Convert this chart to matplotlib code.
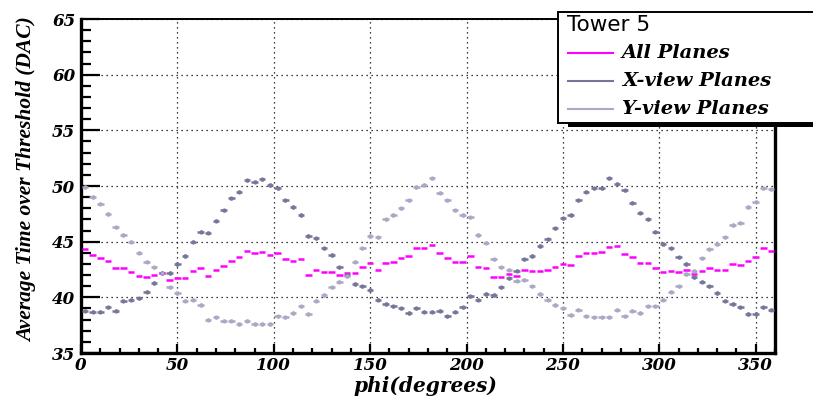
import numpy as np
import matplotlib
matplotlib.use("Agg")
import matplotlib.pyplot as plt
from matplotlib.ticker import MultipleLocator
from matplotlib.lines import Line2D

# Bin centres in phi (degrees), 4-degree bins
bin_width = 4.0
phi = np.arange(2, 360, 4)

all_planes = [
    44.3, 43.8, 43.5, 43.3, 42.6, 42.6, 42.3, 41.9, 41.8, 42.0,
    42.2, 41.6, 41.7, 41.7, 42.4, 42.6, 41.9, 42.5, 42.8, 43.3,
    43.6, 44.2, 44.0, 44.1, 43.8, 44.0, 43.4, 43.3, 43.4, 42.0,
    42.5, 42.3, 42.3, 42.0, 42.2, 42.2, 42.7, 43.1, 42.5, 43.1,
    43.2, 43.5, 43.7, 44.4, 44.4, 44.7, 44.0, 43.5, 43.2, 43.2,
    43.7, 42.7, 42.6, 41.8, 41.8, 42.1, 41.9, 42.5, 42.4, 42.4,
    42.5, 42.7, 43.0, 42.9, 43.7, 44.0, 44.0, 44.1, 44.5, 44.6,
    43.9, 43.6, 43.1, 43.1, 42.6, 42.3, 42.4, 42.3, 42.5, 42.1,
    42.4, 42.6, 42.5, 42.5, 43.0, 42.9, 43.3, 43.6, 44.4, 44.2,
]

x_view = [
    38.8, 38.7, 38.7, 39.1, 38.8, 39.7, 39.8, 39.9, 40.5, 41.3,
    42.2, 42.2, 43.0, 43.7, 45.0, 45.9, 45.8, 46.9, 47.8, 48.9,
    49.5, 50.5, 50.4, 50.6, 50.1, 49.8, 48.7, 48.1, 47.4, 45.5,
    45.3, 44.4, 43.8, 42.7, 42.0, 41.2, 41.0, 40.7, 39.8, 39.4,
    39.2, 39.0, 38.6, 39.0, 38.7, 38.7, 38.8, 38.3, 38.7, 39.1,
    40.1, 39.8, 40.3, 40.2, 40.9, 41.7, 42.4, 43.4, 43.7, 44.6,
    45.2, 46.2, 47.1, 47.4, 48.7, 49.5, 49.8, 49.8, 50.7, 50.2,
    49.6, 48.5, 47.6, 47.0, 45.9, 44.8, 44.4, 43.6, 43.0, 41.8,
    41.4, 41.0, 40.4, 39.7, 39.4, 39.1, 38.5, 38.5, 39.1, 38.9,
]

y_view = [
    49.9, 49.0, 48.4, 47.5, 46.3, 45.6, 45.0, 44.0, 43.2, 42.7,
    42.2, 40.9, 40.4, 39.7, 39.8, 39.3, 38.0, 38.2, 37.9, 37.9,
    37.6, 37.9, 37.6, 37.6, 37.6, 38.3, 38.2, 38.6, 39.2, 38.5,
    39.7, 40.2, 40.9, 41.4, 41.9, 43.2, 44.4, 45.5, 45.4, 47.0,
    47.4, 48.0, 48.7, 49.9, 50.1, 50.7, 49.4, 48.7, 47.8, 47.4,
    47.2, 45.6, 44.9, 43.4, 42.7, 42.5, 41.5, 41.6, 41.0, 40.3,
    39.8, 39.3, 39.0, 38.4, 38.9, 38.3, 38.2, 38.2, 38.2, 38.9,
    38.3, 38.8, 38.6, 39.2, 39.2, 39.8, 40.5, 41.0, 42.1, 42.4,
    43.5, 44.3, 44.8, 45.4, 46.5, 46.7, 48.1, 48.6, 49.8, 49.7,
]

series_names = ["All Planes", "X-view Planes", "Y-view Planes"]
series_colors = ["#ff00ff", "#76769a", "#a9a9c6"]
legend_title = "Tower 5"

serif_bi = dict(family="DejaVu Serif", weight="bold", style="italic")

fig = plt.figure(figsize=(8.13, 3.96), dpi=100)
ax = fig.add_axes([81 / 813, 1 - 353 / 396, (775 - 81) / 813, (353 - 19) / 396])

ax.set_xlim(0, 360)
ax.set_ylim(35, 65)

# Data points: short horizontal bars with a small dot and tiny vertical error
for vals, col, ms, yerr in [
    (x_view, series_colors[1], 3.0, 0.15),
    (y_view, series_colors[2], 3.0, 0.15),
    (all_planes, series_colors[0], 0, 0.0),
]:
    ax.errorbar(phi, vals, xerr=bin_width * 0.42, yerr=yerr, fmt="o",
                color=col, ms=ms, mew=0, elinewidth=1.8, capsize=0, zorder=3)

# Grid at major ticks
ax.grid(True, which="major", color="black", linestyle=(0, (1, 3)), linewidth=0.9)
ax.set_axisbelow(True)

ax.xaxis.set_major_locator(MultipleLocator(50))
ax.xaxis.set_minor_locator(MultipleLocator(10))
ax.yaxis.set_major_locator(MultipleLocator(5))
ax.yaxis.set_minor_locator(MultipleLocator(1))

ax.tick_params(axis="both", which="both", direction="in", top=False, right=False,
               width=1.6, color="black")
ax.tick_params(axis="y", which="major", length=14, pad=4)
ax.tick_params(axis="y", which="minor", length=7.5)
ax.tick_params(axis="x", which="major", length=6.5, pad=3)
ax.tick_params(axis="x", which="minor", length=3.6)

for lab in ax.get_xticklabels() + ax.get_yticklabels():
    lab.set_fontfamily("DejaVu Serif")
    lab.set_fontweight("bold")
    lab.set_fontstyle("italic")
    lab.set_fontsize(12)

for side, lw in [("left", 2.4), ("bottom", 2.4), ("right", 2.4), ("top", 1.4)]:
    ax.spines[side].set_linewidth(lw)
    ax.spines[side].set_color("black")

fig.text(27 / 813, 1 - 180 / 396, "Average Time over Threshold (DAC)", rotation=90,
         ha="center", va="center", fontsize=15.5, family="Liberation Serif",
         weight="bold", style="italic")
fig.text(425 / 813, 1 - 386 / 396, "phi(degrees)", ha="center", va="center",
         fontsize=14.5, **serif_bi)

# Legend box with drop shadow
lx0, ly0, lx1, ly1 = 558, 12, 830, 123
shadow = plt.Rectangle((568 / 813, 1 - 127 / 396), (lx1 - 568) / 813, (127 - 20) / 396,
                       transform=fig.transFigure, facecolor="black", edgecolor="none",
                       zorder=9)
box = plt.Rectangle((lx0 / 813, 1 - ly1 / 396), (lx1 - lx0) / 813, (ly1 - ly0) / 396,
                    transform=fig.transFigure, facecolor="white", edgecolor="black",
                    linewidth=1.4, zorder=10)
fig.add_artist(shadow)
fig.add_artist(box)
fig.text(567 / 813, 1 - 25 / 396, legend_title, ha="left", va="center",
         fontsize=15.5, family="DejaVu Sans", zorder=11)
for i, (name, col) in enumerate(zip(series_names, series_colors)):
    yy = 1 - (53 + 28 * i) / 396
    fig.add_artist(Line2D([568 / 813, 613 / 813], [yy, yy], color=col, linewidth=1.5,
                          transform=fig.transFigure, zorder=11))
    fig.text(622 / 813, yy, name, ha="left", va="center", fontsize=14,
             zorder=11, **serif_bi)

fig.savefig("out.png", dpi=100)
